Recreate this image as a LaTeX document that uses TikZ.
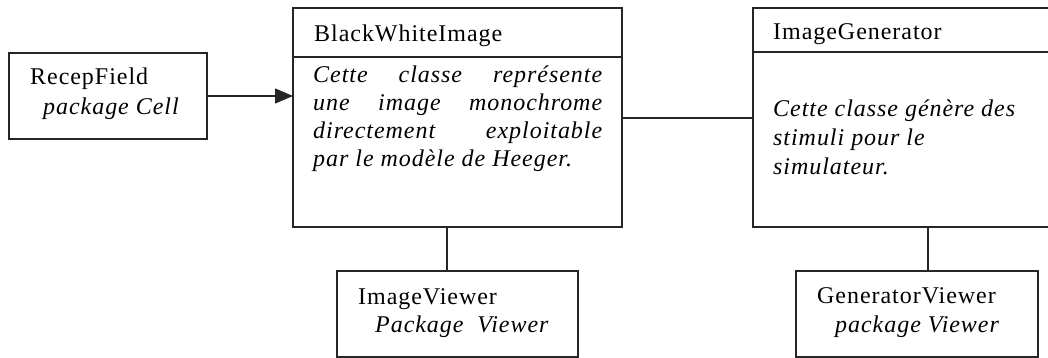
\documentclass[tikz,border=0pt]{standalone}
\usepackage{fontspec}
\setmainfont{Liberation Serif}[LetterSpace=4]
\usetikzlibrary{arrows.meta}
\tikzset{
  box/.style={draw=black!85, line width=1.4pt, anchor=north west, inner sep=0pt, outer sep=0pt},
  lbl/.style={anchor=base west, inner sep=0pt, font=\fontsize{24}{28}\selectfont},
  ilbl/.style={lbl, font=\fontsize{24}{28}\selectfont\itshape},
  desc/.style={anchor=base west, inner sep=0pt, align=left, font=\fontsize{24}{28}\selectfont\itshape},
  conn/.style={draw=black!85, line width=1.4pt},
}
\begin{document}
\begin{tikzpicture}[x=1pt,y=-1pt]
\useasboundingbox (0,0) rectangle (1048,358);
% boxes
\node[box, minimum width=198pt, minimum height=86pt] (recep) at (9,53) {};
\node[box, minimum width=329pt, minimum height=219pt] (bw) at (293,8) {};
\node[box, minimum width=300pt, minimum height=219pt] (gen) at (753,8) {};
\node[box, minimum width=241pt, minimum height=86pt] (iview) at (337,271) {};
\node[box, minimum width=242pt, minimum height=86pt] (gview) at (796,271) {};
% header dividers
\coordinate (bwdl) at (293,57);
\coordinate (bwdr) at (622,57);
\draw[conn] (bwdl) -- (bwdr);
\coordinate (gendl) at (753,52);
\coordinate (gendr) at (1053,52);
\draw[conn] (gendl) -- (gendr);
% texts
\node[lbl] (t1) at (30,85) {RecepField};
\node[ilbl] (t2) at (43,115) {package Cell};
\node[lbl] (t3) at (314,42) {BlackWhiteImage};
\node[desc] (t4) at (313,167) {\makebox[289pt][s]{Cette classe représente}\\
\makebox[289pt][s]{une image monochrome}\\
\makebox[289pt][s]{directement exploitable}\\
par le modèle de Heeger.};
\node[lbl] (t5) at (773,40) {ImageGenerator};
\node[desc, font=\fontsize{24}{29}\selectfont\itshape] (t6) at (773,175) {Cette classe génère des\\stimuli pour le\\simulateur.};
\node[lbl] (t7) at (358,304) {ImageViewer};
\node[ilbl] (t8) at (375,332) {Package\ \ Viewer};
\node[lbl] (t9) at (817,303) {GeneratorViewer};
\node[ilbl] (t10) at (835,332) {package Viewer};
% connectors
\draw[conn, -{Triangle[length=18pt, width=15pt]}] (recep.east) -- (recep.east -| bw.west);
\draw[conn] (bw.east |- 0,118) -- (gen.west |- 0,118);
\draw[conn] (iview.north -| 447,0) -- (bw.south -| 447,0);
\draw[conn] (gview.north -| 928,0) -- (gen.south -| 928,0);
\end{tikzpicture}
\end{document}
